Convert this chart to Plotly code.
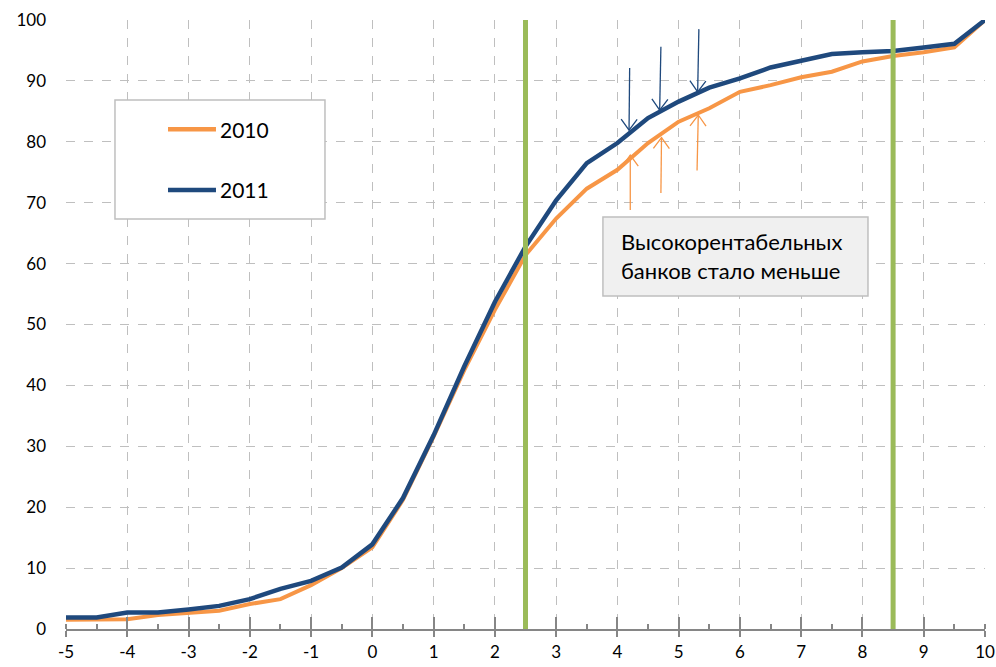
import math
import plotly.graph_objects as go

x_vals = [-5, -4.5, -4, -3.5, -3, -2.5, -2, -1.5, -1, -0.5, 0, 0.5, 1, 1.5, 2, 2.5,
          3, 3.5, 4, 4.5, 5, 5.5, 6, 6.5, 7, 7.5, 8, 8.5, 9, 9.5, 10]
y_2010 = [1.5, 1.5, 1.6, 2.3, 2.7, 3.0, 4.1, 4.9, 7.2, 10.0, 13.4, 21.2, 31.6, 42.5, 52.4, 61.4,
          67.4, 72.3, 75.4, 79.8, 83.3, 85.5, 88.2, 89.3, 90.6, 91.5, 93.2, 94.1, 94.7, 95.5, 100]
y_2011 = [1.9, 1.9, 2.7, 2.7, 3.2, 3.8, 4.9, 6.6, 7.9, 10.1, 13.9, 21.5, 31.8, 43.1, 53.7, 62.8,
          70.4, 76.5, 79.8, 83.9, 86.6, 88.9, 90.4, 92.2, 93.3, 94.4, 94.7, 94.9, 95.5, 96.1, 100]
series_names = ["2010", "2011"]
x_ticks = [-5, -4, -3, -2, -1, 0, 1, 2, 3, 4, 5, 6, 7, 8, 9, 10]
x_ticklabels = ["-5", "-4", "-3", "-2", "-1", "0", "1", "2", "3", "4", "5", "6", "7", "8", "9", "10"]
y_ticks = [0, 10, 20, 30, 40, 50, 60, 70, 80, 90, 100]
vlines_x = [2.5, 8.5]
note_lines = ["Высокорентабельных", "банков стало меньше"]

# arrows: (head x, head y, tail x, tail y) in data units
arrows_2011 = [(4.19, 81.9, 4.2, 92.1), (4.69, 85.2, 4.71, 95.6), (5.31, 88.2, 5.33, 98.5)]
arrows_2010 = [(4.21, 77.8, 4.21, 68.8), (4.72, 80.7, 4.71, 71.6), (5.32, 84.4, 5.30, 75.3)]

ORANGE = "#F79646"
BLUE = "#1F497D"
GREEN = "#9BBB59"
GRID = "#BFBFBF"
AXIS = "#868686"
FONT = "Lato"

W, H = 996, 667
ML, MR, MT, MB = 66, 11, 20, 38
XR = [-5, 10]
YR = [0, 100]
sx = (W - ML - MR) / (XR[1] - XR[0])   # px per x unit
sy = (H - MT - MB) / (YR[1] - YR[0])   # px per y unit

fig = go.Figure()
fig.add_trace(go.Scatter(x=x_vals, y=y_2010, mode="lines", name=series_names[0],
                         line=dict(color=ORANGE, width=4), showlegend=False))
fig.add_trace(go.Scatter(x=x_vals, y=y_2011, mode="lines", name=series_names[1],
                         line=dict(color=BLUE, width=4.5), showlegend=False))

for xv in vlines_x:
    fig.add_shape(type="line", x0=xv, x1=xv, y0=0, y1=1, xref="x", yref="paper",
                  line=dict(color=GREEN, width=5), layer="above")


def add_arrow(hx, hy, tx, ty, color):
    fig.add_shape(type="line", x0=tx, y0=ty, x1=hx, y1=hy, xref="x", yref="y",
                  line=dict(color=color, width=1.3), layer="above")
    dx, dy = (hx - tx) * sx, (hy - ty) * sy
    n = math.hypot(dx, dy)
    ux, uy = dx / n, dy / n
    px, py = -uy, ux
    L, Wd = 11, 8
    pts = []
    for s in (1, -1):
        bx = hx * sx - L * ux + s * Wd * px
        by = hy * sy - L * uy + s * Wd * py
        pts.append((bx / sx, by / sy))
    path = f"M {pts[0][0]},{pts[0][1]} L {hx},{hy} L {pts[1][0]},{pts[1][1]}"
    fig.add_shape(type="path", path=path, xref="x", yref="y",
                  line=dict(color=color, width=1.3), layer="above")


for a in arrows_2011:
    add_arrow(*a, BLUE)
for a in arrows_2010:
    add_arrow(*a, ORANGE)

# note box
fig.add_shape(type="rect", x0=3.764, x1=8.09, y0=54.7, y1=67.65, xref="x", yref="y",
              fillcolor="#F0F0F0", line=dict(color=GRID, width=1.5), layer="above")
fig.add_annotation(x=4.03, y=61.2, xref="x", yref="y", xanchor="left", yanchor="middle",
                   text="<br>".join(note_lines), showarrow=False, align="left",
                   font=dict(family=FONT, size=22, color="black"))

# legend (drawn)
fig.add_shape(type="rect", x0=0.0533, x1=0.2818, y0=0.6732, y1=0.8686,
              xref="paper", yref="paper", fillcolor="white",
              line=dict(color=GRID, width=1.5), layer="above")
for name, color, yl in [(series_names[0], ORANGE, 0.8205), (series_names[1], BLUE, 0.7209)]:
    fig.add_shape(type="line", x0=0.111, x1=0.1632, y0=yl, y1=yl, xref="paper", yref="paper",
                  line=dict(color=color, width=4.5), layer="above")
    fig.add_annotation(x=0.1650, y=yl, xref="paper", yref="paper", xanchor="left",
                       yanchor="middle", text=name, showarrow=False,
                       font=dict(family=FONT, size=21, color="black"))

fig.update_layout(
    width=W, height=H,
    margin=dict(l=ML, r=MR, t=MT, b=MB),
    paper_bgcolor="white", plot_bgcolor="white",
    font=dict(family=FONT, size=17, color="black"),
    showlegend=False,
    xaxis2=dict(overlaying="x", matches="x", range=XR, tickvals=x_ticks,
                showticklabels=False, ticks="inside", ticklen=12, tickwidth=1.5,
                tickcolor=AXIS, showgrid=False, zeroline=False, showline=False,
                side="bottom", automargin=False),
)
fig.add_trace(go.Scatter(x=[XR[0]], y=[YR[0]], xaxis="x2", mode="markers",
                         marker=dict(opacity=0), hoverinfo="skip", showlegend=False))
fig.layout.xaxis.update(range=XR, tickvals=x_ticks, ticktext=x_ticklabels,
                        showgrid=True, gridcolor=GRID, griddash="dash", gridwidth=1,
                        showline=True, linecolor=AXIS, linewidth=1.5,
                        ticks="outside", ticklen=6, tickcolor=AXIS, tickwidth=1.5,
                        minor=dict(dtick=0.5, tick0=-5, ticks="inside", ticklen=5,
                                   tickcolor=AXIS, tickwidth=1.5, showgrid=False),
                        zeroline=False, tickfont=dict(size=17), automargin=False,
                        ticklabelstandoff=1)
fig.layout.yaxis.update(range=YR, tickvals=y_ticks,
                        showgrid=True, gridcolor=GRID, griddash="dash", gridwidth=1,
                        showline=False, zeroline=False, ticks="",
                        ticklabelstandoff=19, tickfont=dict(size=17), automargin=False)

fig.write_html("out.html", config={"displayModeBar": False},
               post_script="document.body.style.margin='0';document.body.style.overflow='hidden';")
